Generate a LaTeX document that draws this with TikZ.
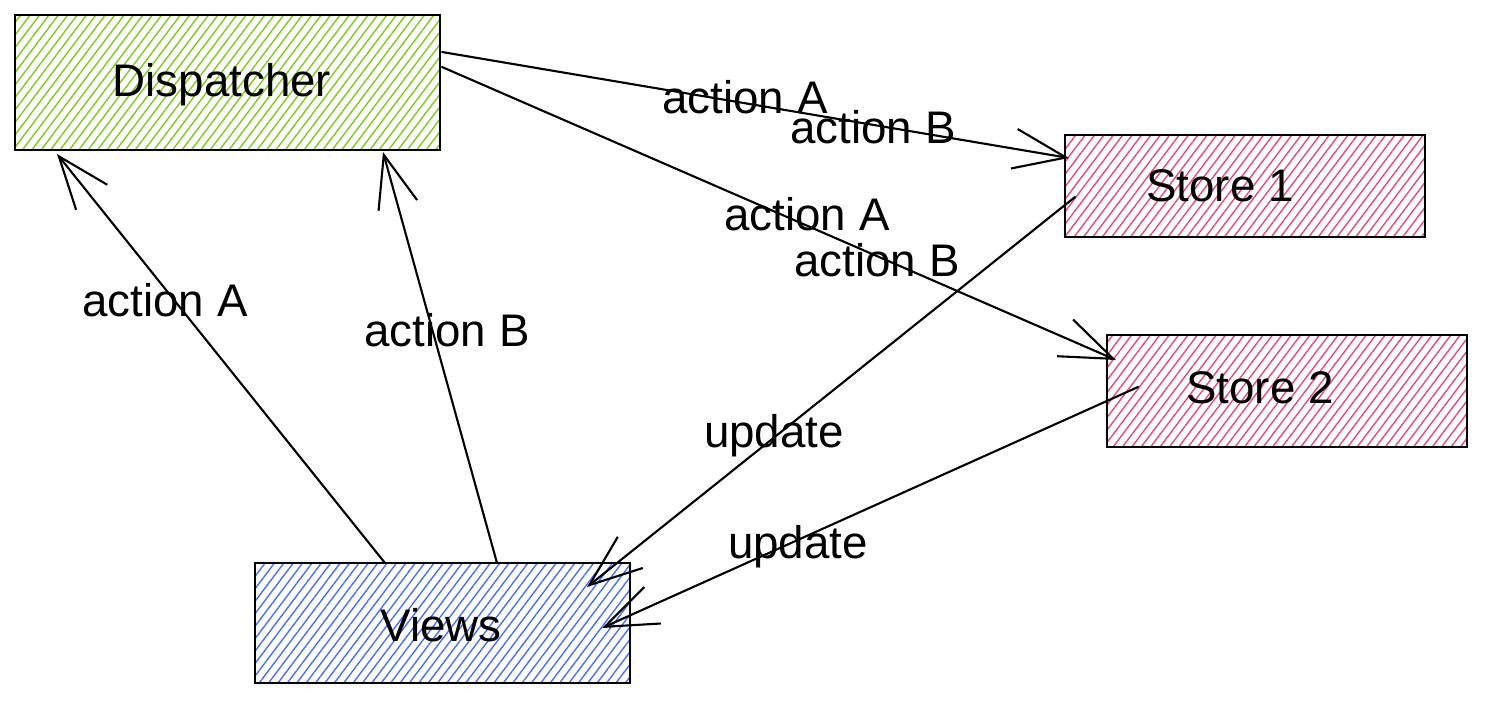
\documentclass[tikz,border=0pt]{standalone}
\usepackage{fontspec}
\setmainfont{Liberation Sans}
\usetikzlibrary{arrows.meta,patterns.meta}
\definecolor{hgreen}{HTML}{82C91E}
\definecolor{hpink}{HTML}{E64980}
\definecolor{hblue}{HTML}{4C6EF5}
\begin{document}
\begin{tikzpicture}[x=0.02cm,y=-0.02cm,
  box/.style={draw=black,line width=1.6pt,inner sep=0pt},
  hatch/.style={pattern={Lines[angle=53,distance=0.15cm,line width=0.8pt]},pattern color=#1},
  lbl/.style={font=\fontsize{26}{31}\selectfont,inner sep=0pt},
  conn/.style={line width=1.2pt,line cap=round,-{Straight Barb[length=1.05cm,width=0.8cm,line width=1.2pt]}},
]
\useasboundingbox (0,0) rectangle (1488,703);
% boxes
\node[box,hatch=hgreen,minimum width=8.5cm,minimum height=2.7cm] (disp) at (227.5,82.5) {};
\node[box,hatch=hpink,minimum width=7.2cm,minimum height=2.04cm] (s1) at (1245,186) {};
\node[box,hatch=hpink,minimum width=7.2cm,minimum height=2.24cm] (s2) at (1287,391) {};
\node[box,hatch=hblue,minimum width=7.5cm,minimum height=2.4cm] (views) at (442.5,623) {};
% box texts
\node[lbl] (dispt) at (222,85) {Dispatcher};
\node[lbl] (s1t) at (1220,186) {Store 1};
\node[lbl] (s2t) at (1260,388) {Store 2};
\node[lbl] (viewst) at (441,625) {Views};
% connector end points
\coordinate (d1) at (442,52);
\coordinate (d2) at (442,67);
\coordinate (d3) at (57,154);
\coordinate (d4) at (383,152);
\coordinate (a1) at (1069,158);
\coordinate (a2) at (1116,360);
\coordinate (v1) at (385,563);
\coordinate (v2) at (497,563);
\coordinate (v3) at (587,587);
\coordinate (v4) at (602,628);
\coordinate (b1) at (1075,197);
\coordinate (b2) at (1138,387);
% connectors
\draw[conn] (d1) -- (a1);
\draw[conn] (d2) -- (a2);
\draw[conn] (v1) -- (d3);
\draw[conn] (v2) -- (d4);
\draw[conn] (b1) -- (v3);
\draw[conn] (b2) -- (v4);
% labels
\node[lbl] (l1) at (745,97) {action A};
\node[lbl] (l2) at (873,127) {action B};
\node[lbl] (l3) at (807,214) {action A};
\node[lbl] (l4) at (877,260) {action B};
\node[lbl] (l5) at (165,300) {action A};
\node[lbl] (l6) at (447,330) {action B};
\node[lbl] (l7) at (774,436) {update};
\node[lbl] (l8) at (798,547) {update};
\end{tikzpicture}
\end{document}
